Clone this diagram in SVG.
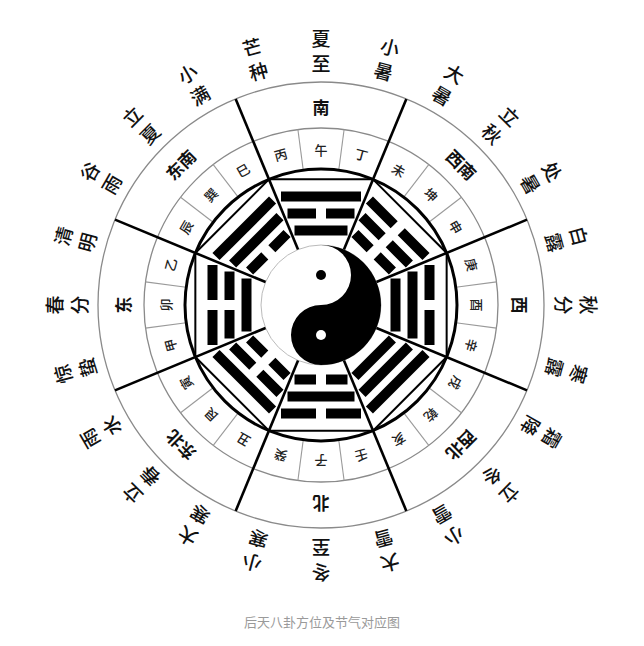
<svg xmlns="http://www.w3.org/2000/svg" width="644" height="646" viewBox="0 0 644 646">
<style>
.ring{fill:none;stroke:#8a8a8a;stroke-width:1.3}
.cell{stroke:#9a9a9a;stroke-width:1.1}
.div{stroke:#000;stroke-width:2.6}
.jq{font-family:"Noto Sans CJK SC","Noto Sans CJK TC",sans-serif;font-size:19px;font-weight:500;fill:#111;text-anchor:middle;dominant-baseline:central}
.dir{font-family:"Noto Sans CJK SC",sans-serif;font-size:17px;font-weight:700;fill:#111;text-anchor:middle;dominant-baseline:central}
.mt{font-family:"Noto Sans CJK SC",sans-serif;font-size:13px;font-weight:500;fill:#222;text-anchor:middle;dominant-baseline:central}
.cap{font-family:"Noto Sans CJK SC",sans-serif;font-size:13px;fill:#9a9a9a;text-anchor:middle}
</style>
<defs>
<rect id="y0" x="-26.5" y="-79.5" width="53" height="10"/>
<rect id="y1" x="-33.5" y="-96.5" width="67" height="10"/>
<rect id="y2" x="-40" y="-113.5" width="80" height="10"/>
<path id="n0" d="M-26.5 -79.5h21.5v10h-21.5zM5 -79.5h21.5v10h-21.5z"/>
<path id="n1" d="M-33.5 -96.5h28.5v10h-28.5zM5 -96.5h28.5v10h-28.5z"/>
<path id="n2" d="M-40 -113.5h35v10h-35zM5 -113.5h35v10h-35z"/>
</defs>
<rect width="644" height="646" fill="#fff"/>
<g transform="translate(321,305)">
  <g id="rings">
    <circle class="ring" r="223"/>
    <circle class="ring" r="177"/>
  </g>
  <g id="cells">
    <line class="cell" x1="0" y1="-136" x2="0" y2="-177" transform="rotate(7.5)"/>
    <line class="cell" x1="0" y1="-136" x2="0" y2="-177" transform="rotate(37.5)"/>
    <line class="cell" x1="0" y1="-136" x2="0" y2="-177" transform="rotate(52.5)"/>
    <line class="cell" x1="0" y1="-136" x2="0" y2="-177" transform="rotate(82.5)"/>
    <line class="cell" x1="0" y1="-136" x2="0" y2="-177" transform="rotate(97.5)"/>
    <line class="cell" x1="0" y1="-136" x2="0" y2="-177" transform="rotate(127.5)"/>
    <line class="cell" x1="0" y1="-136" x2="0" y2="-177" transform="rotate(142.5)"/>
    <line class="cell" x1="0" y1="-136" x2="0" y2="-177" transform="rotate(172.5)"/>
    <line class="cell" x1="0" y1="-136" x2="0" y2="-177" transform="rotate(187.5)"/>
    <line class="cell" x1="0" y1="-136" x2="0" y2="-177" transform="rotate(217.5)"/>
    <line class="cell" x1="0" y1="-136" x2="0" y2="-177" transform="rotate(232.5)"/>
    <line class="cell" x1="0" y1="-136" x2="0" y2="-177" transform="rotate(262.5)"/>
    <line class="cell" x1="0" y1="-136" x2="0" y2="-177" transform="rotate(277.5)"/>
    <line class="cell" x1="0" y1="-136" x2="0" y2="-177" transform="rotate(307.5)"/>
    <line class="cell" x1="0" y1="-136" x2="0" y2="-177" transform="rotate(322.5)"/>
    <line class="cell" x1="0" y1="-136" x2="0" y2="-177" transform="rotate(352.5)"/>
  </g>
  <g id="taiji">
    <circle r="60" fill="#fff" stroke="#bbb" stroke-width="1"/>
    <path d="M0 -60A60 60 0 0 1 0 60A30 30 0 0 1 0 0A30 30 0 0 0 0 -60Z" fill="#000"/>
    <circle cx="0" cy="-30" r="5" fill="#000"/>
    <circle cx="0" cy="30" r="5" fill="#fff"/>
  </g>
  <g id="trigrams" fill="#000">
    <g id="li" transform="rotate(0)"><use href="#y0"/><use href="#n1"/><use href="#y2"/></g>
    <g id="kun" transform="rotate(45)"><use href="#n0"/><use href="#n1"/><use href="#n2"/></g>
    <g id="dui" transform="rotate(90)"><use href="#y0"/><use href="#y1"/><use href="#n2"/></g>
    <g id="qian" transform="rotate(135)"><use href="#y0"/><use href="#y1"/><use href="#y2"/></g>
    <g id="kan" transform="rotate(180)"><use href="#n0"/><use href="#y1"/><use href="#n2"/></g>
    <g id="gen" transform="rotate(225)"><use href="#n0"/><use href="#n1"/><use href="#y2"/></g>
    <g id="zhen" transform="rotate(270)"><use href="#y0"/><use href="#n1"/><use href="#n2"/></g>
    <g id="xun" transform="rotate(315)"><use href="#n0"/><use href="#y1"/><use href="#y2"/></g>
  </g>
  <g id="frame">
    <polygon points="52.05,-125.65 125.65,-52.05 125.65,52.05 52.05,125.65 -52.05,125.65 -125.65,52.05 -125.65,-52.05 -52.05,-125.65" fill="none" stroke="#000" stroke-width="2"/>
    <circle r="136" fill="none" stroke="#000" stroke-width="3"/>
  </g>
  <g id="dividers">
    <line class="div" x1="0" y1="-60" x2="0" y2="-223" transform="rotate(22.5)"/>
    <line class="div" x1="0" y1="-60" x2="0" y2="-223" transform="rotate(67.5)"/>
    <line class="div" x1="0" y1="-60" x2="0" y2="-223" transform="rotate(112.5)"/>
    <line class="div" x1="0" y1="-60" x2="0" y2="-223" transform="rotate(157.5)"/>
    <line class="div" x1="0" y1="-60" x2="0" y2="-223" transform="rotate(202.5)"/>
    <line class="div" x1="0" y1="-60" x2="0" y2="-223" transform="rotate(247.5)"/>
    <line class="div" x1="0" y1="-60" x2="0" y2="-223" transform="rotate(292.5)"/>
    <line class="div" x1="0" y1="-60" x2="0" y2="-223" transform="rotate(337.5)"/>
  </g>
  <g id="mountains">
    <text class="mt" transform="rotate(0) translate(0,-156)">午</text>
    <text class="mt" transform="rotate(15) translate(0,-156)">丁</text>
    <text class="mt" transform="rotate(30) translate(0,-156)">未</text>
    <text class="mt" transform="rotate(45) translate(0,-156)">坤</text>
    <text class="mt" transform="rotate(60) translate(0,-156)">申</text>
    <text class="mt" transform="rotate(75) translate(0,-156)">庚</text>
    <text class="mt" transform="rotate(90) translate(0,-156)">酉</text>
    <text class="mt" transform="rotate(105) translate(0,-156)">辛</text>
    <text class="mt" transform="rotate(120) translate(0,-156)">戌</text>
    <text class="mt" transform="rotate(135) translate(0,-156)">乾</text>
    <text class="mt" transform="rotate(150) translate(0,-156)">亥</text>
    <text class="mt" transform="rotate(165) translate(0,-156)">壬</text>
    <text class="mt" transform="rotate(180) translate(0,-156)">子</text>
    <text class="mt" transform="rotate(195) translate(0,-156)">癸</text>
    <text class="mt" transform="rotate(210) translate(0,-156)">丑</text>
    <text class="mt" transform="rotate(225) translate(0,-156)">艮</text>
    <text class="mt" transform="rotate(240) translate(0,-156)">寅</text>
    <text class="mt" transform="rotate(255) translate(0,-156)">甲</text>
    <text class="mt" transform="rotate(270) translate(0,-156)">卯</text>
    <text class="mt" transform="rotate(285) translate(0,-156)">乙</text>
    <text class="mt" transform="rotate(300) translate(0,-156)">辰</text>
    <text class="mt" transform="rotate(315) translate(0,-156)">巽</text>
    <text class="mt" transform="rotate(330) translate(0,-156)">巳</text>
    <text class="mt" transform="rotate(345) translate(0,-156)">丙</text>
  </g>
  <g id="directions">
    <text class="dir" transform="rotate(0) translate(0,-199)">南</text>
    <text class="dir" transform="rotate(45) translate(0,-199)">西南</text>
    <text class="dir" transform="rotate(90) translate(0,-199)">西</text>
    <text class="dir" transform="rotate(135) translate(0,-199)">西北</text>
    <text class="dir" transform="rotate(180) translate(0,-199)">北</text>
    <text class="dir" transform="rotate(225) translate(0,-199)">东北</text>
    <text class="dir" transform="rotate(270) translate(0,-199)">东</text>
    <text class="dir" transform="rotate(315) translate(0,-199)">东南</text>
  </g>
  <g id="jieqi">
    <g transform="rotate(0)"><text class="jq" y="-268">夏</text><text class="jq" y="-243">至</text></g>
    <g transform="rotate(15)"><text class="jq" y="-268">小</text><text class="jq" y="-243">暑</text></g>
    <g transform="rotate(30)"><text class="jq" y="-268">大</text><text class="jq" y="-243">暑</text></g>
    <g transform="rotate(45)"><text class="jq" y="-268">立</text><text class="jq" y="-243">秋</text></g>
    <g transform="rotate(60)"><text class="jq" y="-268">处</text><text class="jq" y="-243">暑</text></g>
    <g transform="rotate(75)"><text class="jq" y="-268">白</text><text class="jq" y="-243">露</text></g>
    <g transform="rotate(90)"><text class="jq" y="-268">秋</text><text class="jq" y="-243">分</text></g>
    <g transform="rotate(105)"><text class="jq" y="-268">寒</text><text class="jq" y="-243">露</text></g>
    <g transform="rotate(120)"><text class="jq" y="-268">霜</text><text class="jq" y="-243">降</text></g>
    <g transform="rotate(135)"><text class="jq" y="-268">立</text><text class="jq" y="-243">冬</text></g>
    <g transform="rotate(150)"><text class="jq" y="-268">小</text><text class="jq" y="-243">雪</text></g>
    <g transform="rotate(165)"><text class="jq" y="-268">大</text><text class="jq" y="-243">雪</text></g>
    <g transform="rotate(180)"><text class="jq" y="-268">冬</text><text class="jq" y="-243">至</text></g>
    <g transform="rotate(195)"><text class="jq" y="-268">小</text><text class="jq" y="-243">寒</text></g>
    <g transform="rotate(210)"><text class="jq" y="-268">大</text><text class="jq" y="-243">寒</text></g>
    <g transform="rotate(225)"><text class="jq" y="-268">立</text><text class="jq" y="-243">春</text></g>
    <g transform="rotate(240)"><text class="jq" y="-268">雨</text><text class="jq" y="-243">水</text></g>
    <g transform="rotate(255)"><text class="jq" y="-268">惊</text><text class="jq" y="-243">蛰</text></g>
    <g transform="rotate(270)"><text class="jq" y="-268">春</text><text class="jq" y="-243">分</text></g>
    <g transform="rotate(285)"><text class="jq" y="-268">清</text><text class="jq" y="-243">明</text></g>
    <g transform="rotate(300)"><text class="jq" y="-268">谷</text><text class="jq" y="-243">雨</text></g>
    <g transform="rotate(315)"><text class="jq" y="-268">立</text><text class="jq" y="-243">夏</text></g>
    <g transform="rotate(330)"><text class="jq" y="-268">小</text><text class="jq" y="-243">满</text></g>
    <g transform="rotate(345)"><text class="jq" y="-268">芒</text><text class="jq" y="-243">种</text></g>
  </g>
</g>
<text id="caption" class="cap" x="322" y="627">后天八卦方位及节气对应图</text>
</svg>
